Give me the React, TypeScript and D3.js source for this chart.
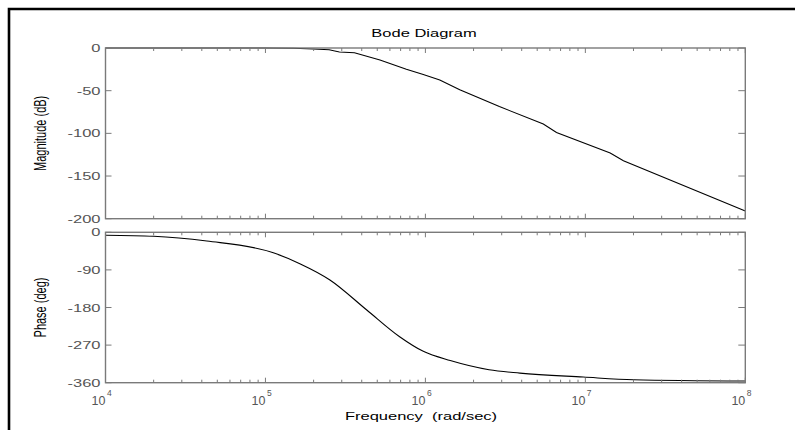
import { curveLinear, curveMonotoneX, line, scaleLinear, scaleLog } from "d3";

const FREQ_MAG = [1e4, 3e4, 1e5, 1.5e5, 2e5, 2.5e5, 2.9e5, 3.6e5, 5.2e5, 7.6e5, 9.7e5, 1.23e6, 1.64e6, 2.9e6, 5.46e6, 6.6e6, 1.43e7, 1.73e7, 1e8];
const MAG_DB = [0, 0, 0, -0.3, -1.2, -2, -4.7, -5.5, -14, -25, -31, -37.4, -49, -68.6, -89, -99, -123, -132, -191];

const FREQ_PHASE = [1e4, 2e4, 4.3e4, 1.12e5, 1.64e5, 2.53e5, 4.3e5, 6.9e5, 9.7e5, 1.43e6, 2.5e6, 3.9e6, 9.7e6, 2e7, 1e8];
const PHASE_DEG = [-7, -9.5, -21, -49, -75, -114, -186, -250, -285, -307, -329, -337, -346.5, -353, -356];

const MAG_TICKS = [0, -50, -100, -150, -200];
const PHASE_TICKS = [0, -90, -180, -270, -360];
const DECADES = [4, 5, 6, 7, 8];

const WIDTH = 795;
const HEIGHT = 430;
const PLOT = { left: 105.5, right: 745.3 };
const MAG_BOX = { top: 48, bottom: 218.7 };
const PHASE_BOX = { top: 232.3, bottom: 382.7 };

const AXIS = "#7a7a7a";
const LABEL = "#555";
const FONT = "Liberation Sans, Arial, Helvetica, sans-serif";

const xScale = scaleLog().domain([1e4, 1e8]).range([PLOT.left, PLOT.right]);

type Pt = { f: number; v: number };

function Panel({
  box,
  domain,
  ticks,
  points,
  label,
  smooth,
}: {
  box: { top: number; bottom: number };
  domain: [number, number];
  ticks: number[];
  points: Pt[];
  label: string;
  smooth: boolean;
}) {
  const yScale = scaleLinear().domain(domain).range([box.bottom, box.top]);
  const path = line<Pt>()
    .x((d) => xScale(d.f))
    .y((d) => yScale(d.v))
    .curve(smooth ? curveMonotoneX : curveLinear)(points);
  const xTicks = xScale.ticks();
  const midY = (box.top + box.bottom) / 2;

  return (
    <g>
      <path d={path ?? ""} fill="none" stroke="#000" strokeWidth={1.1} />
      <rect
        x={PLOT.left}
        y={box.top}
        width={PLOT.right - PLOT.left}
        height={box.bottom - box.top}
        fill="none"
        stroke={AXIS}
        strokeWidth={1.4}
      />
      {xTicks.map((t) => {
        const major = DECADES.some((d) => Math.abs(Math.log10(t) - d) < 1e-9);
        const len = major ? 5 : 3;
        const x = xScale(t);
        return (
          <g key={t} stroke={AXIS} strokeWidth={1}>
            <line x1={x} x2={x} y1={box.top} y2={box.top + len} />
            <line x1={x} x2={x} y1={box.bottom} y2={box.bottom - len} />
          </g>
        );
      })}
      {ticks.map((t) => {
        const y = yScale(t);
        return (
          <g key={t}>
            <line x1={PLOT.left} x2={PLOT.left + 6} y1={y} y2={y} stroke={AXIS} />
            <line x1={PLOT.right} x2={PLOT.right - 7} y1={y} y2={y} stroke={AXIS} />
            <text
              transform={`translate(${PLOT.left - 5},${y + 4}) scale(1.5,1)`}
              textAnchor="end"
              fontSize={11}
              fill={LABEL}
            >
              {t}
            </text>
          </g>
        );
      })}
      <text
        transform={`translate(${46},${midY}) scale(1.5,1) rotate(-90)`}
        textAnchor="middle"
        fontSize={11}
        fill="#000"
      >
        {label}
      </text>
    </g>
  );
}

export default function App() {
  const magPoints = FREQ_MAG.map((f, i) => ({ f, v: MAG_DB[i] }));
  const phasePoints = FREQ_PHASE.map((f, i) => ({ f, v: PHASE_DEG[i] }));

  return (
    <svg
      width={WIDTH}
      height={HEIGHT}
      viewBox={`0 0 ${WIDTH} ${HEIGHT}`}
      style={{ position: "fixed", top: 0, left: 0, background: "#fff" }}
      fontFamily={FONT}
    >
      <rect width={WIDTH} height={HEIGHT} fill="#fff" />
      <path d={`M9,${HEIGHT + 5} V9 H${WIDTH + 5}`} fill="none" stroke="#000" strokeWidth={2.6} />
      <text
        transform={`translate(${424},${37}) scale(1.5,1)`}
        textAnchor="middle"
        fontSize={11}
        fill="#000"
      >
        Bode Diagram
      </text>
      <Panel box={MAG_BOX} domain={[-200, 0]} ticks={MAG_TICKS} points={magPoints} label="Magnitude (dB)" smooth={false} />
      <Panel box={PHASE_BOX} domain={[-360, 0]} ticks={PHASE_TICKS} points={phasePoints} label="Phase (deg)" smooth />
      {DECADES.map((d) => {
        const x = xScale(Math.pow(10, d));
        return (
          <g key={d} fill={LABEL}>
            <text x={x} y={405} textAnchor="end" fontSize={12.5}>
              10
            </text>
            <text x={x + 1.5} y={396} fontSize={8.5}>
              {d}
            </text>
          </g>
        );
      })}
      <text
        transform={`translate(${421},${420}) scale(1.5,1)`}
        textAnchor="middle"
        fontSize={11}
        fill="#000"
        xmlSpace="preserve"
      >
        {"Frequency  (rad/sec)"}
      </text>
    </svg>
  );
}
